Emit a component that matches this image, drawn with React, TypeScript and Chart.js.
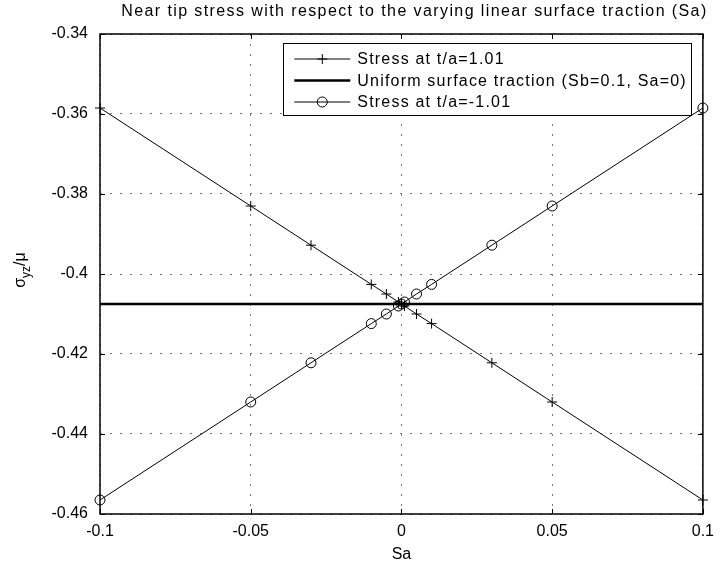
import React, { useEffect, useRef } from "react";
import { Chart, registerables } from "chart.js";

Chart.register(...registerables);

const titleText = "Near tip stress with respect to the varying linear surface traction (Sa)";
const xAxisLabel = "Sa";
const seriesLabels = [
  "Stress at t/a=1.01",
  "Uniform surface traction (Sb=0.1, Sa=0)",
  "Stress at t/a=-1.01",
];
const saValues = [-0.1, -0.05, -0.03, -0.01, -0.005, -0.001, 0, 0.001, 0.005, 0.01, 0.03, 0.05, 0.1];
const stressPos = [-0.3585, -0.383, -0.3928, -0.4026, -0.405, -0.407, -0.4075, -0.408, -0.41, -0.4124, -0.4222, -0.432, -0.4565];
const stressNeg = [-0.4565, -0.432, -0.4222, -0.4124, -0.41, -0.408, -0.4075, -0.407, -0.405, -0.4026, -0.3928, -0.383, -0.3585];
const uniformX = [-0.1, 0.1];
const uniformY = [-0.4075, -0.4075];
const xTicks = [-0.1, -0.05, 0, 0.05, 0.1];
const yTicks = [-0.46, -0.44, -0.42, -0.4, -0.38, -0.36, -0.34];

const FONT = '"Liberation Sans", Arial, Helvetica, sans-serif';

const fmt = (v: number) => String(Number(Number(v).toFixed(3)));

const titlePlugin = {
  id: "spacedTitle",
  afterDraw(chart: any) {
    const { ctx, chartArea } = chart;
    ctx.save();
    ctx.font = `16px ${FONT}`;
    (ctx as any).letterSpacing = "1.4px";
    ctx.fillStyle = "#000";
    ctx.textAlign = "center";
    ctx.textBaseline = "middle";
    ctx.fillText(titleText, (chartArea.left + chartArea.right) / 2 + 13, 12);
    ctx.restore();
  },
};

const framePlugin = {
  id: "frameTicks",
  afterDatasetsDraw(chart: any) {
    const { ctx, chartArea } = chart;
    const { left, right, top, bottom } = chartArea;
    ctx.save();
    ctx.strokeStyle = "#000";
    ctx.lineWidth = 1.5;
    ctx.strokeRect(left, top, right - left, bottom - top);
    ctx.lineWidth = 1;
    const len = 5;
    const xs = chart.scales.x;
    const ys = chart.scales.y;
    ctx.beginPath();
    xTicks.forEach((v) => {
      const px = Math.round(xs.getPixelForValue(v)) + 0.5;
      ctx.moveTo(px, bottom);
      ctx.lineTo(px, bottom - len);
      ctx.moveTo(px, top);
      ctx.lineTo(px, top + len);
    });
    yTicks.forEach((v) => {
      const py = Math.round(ys.getPixelForValue(v)) + 0.5;
      ctx.moveTo(left, py);
      ctx.lineTo(left + len, py);
      ctx.moveTo(right, py);
      ctx.lineTo(right - len, py);
    });
    ctx.stroke();
    ctx.restore();
  },
};

function drawMarker(ctx: CanvasRenderingContext2D, style: string, x: number, y: number, r: number) {
  ctx.beginPath();
  if (style === "cross") {
    ctx.moveTo(x - r, y);
    ctx.lineTo(x + r, y);
    ctx.moveTo(x, y - r);
    ctx.lineTo(x, y + r);
  } else if (style === "circle") {
    ctx.arc(x, y, r, 0, Math.PI * 2);
  }
  ctx.stroke();
}

const legendPlugin = {
  id: "boxLegend",
  afterDatasetsDraw(chart: any) {
    const { ctx, chartArea } = chart;
    ctx.save();
    ctx.font = `16px ${FONT}`;
    (ctx as any).letterSpacing = "1.2px";
    const textW = Math.max(...seriesLabels.map((t) => ctx.measureText(t).width));
    const sampleLeft = 11;
    const sampleLen = 56;
    const textGap = 7;
    const padR = 4;
    const w = sampleLeft + sampleLen + textGap + textW + padR;
    const h = 72;
    const right = chartArea.right - 12;
    const left = right - w;
    const top = chartArea.top + 9;
    ctx.fillStyle = "#fff";
    ctx.fillRect(left, top, w, h);
    ctx.strokeStyle = "#000";
    ctx.lineWidth = 1;
    ctx.strokeRect(Math.round(left) + 0.5, top + 0.5, Math.round(w), h);
    const rowYs = [16, 37.5, 59];
    chart.data.datasets.forEach((ds: any, i: number) => {
      const y = top + rowYs[i];
      ctx.strokeStyle = "#000";
      ctx.lineWidth = ds.borderWidth;
      ctx.beginPath();
      ctx.moveTo(left + sampleLeft, y);
      ctx.lineTo(left + sampleLeft + sampleLen, y);
      ctx.stroke();
      if (ds.pointRadius > 0) {
        ctx.lineWidth = 1;
        drawMarker(ctx, ds.pointStyle, left + sampleLeft + sampleLen / 2, y, ds.pointRadius);
      }
      ctx.fillStyle = "#000";
      ctx.textBaseline = "middle";
      ctx.textAlign = "left";
      ctx.fillText(seriesLabels[i], left + sampleLeft + sampleLen + textGap, y + 1);
    });
    ctx.restore();
  },
};

const yLabelPlugin = {
  id: "yLabel",
  afterDraw(chart: any) {
    const { ctx, chartArea } = chart;
    ctx.save();
    const big = `16px ${FONT}`;
    const small = `12px ${FONT}`;
    ctx.font = big;
    const wSigma = ctx.measureText("\u03c3").width;
    const wTail = ctx.measureText("/\u03bc").width;
    ctx.font = small;
    const wSub = ctx.measureText("yz").width;
    const total = wSigma + wSub + wTail;
    const cy = (chartArea.top + chartArea.bottom) / 2 - 4;
    ctx.translate(25, cy);
    ctx.rotate(-Math.PI / 2);
    ctx.fillStyle = "#000";
    ctx.textBaseline = "alphabetic";
    ctx.textAlign = "left";
    let x = -total / 2;
    ctx.font = big;
    ctx.fillText("\u03c3", x, 0);
    x += wSigma;
    ctx.font = small;
    ctx.fillText("yz", x, 5);
    x += wSub;
    ctx.font = big;
    ctx.fillText("/\u03bc", x, 0);
    ctx.restore();
  },
};

export default function App() {
  const ref = useRef<HTMLCanvasElement | null>(null);
  useEffect(() => {
    document.body.style.margin = "0";
    if (!ref.current) return;
    const toPts = (xs: number[], ys: number[]) => xs.map((x, i) => ({ x, y: ys[i] }));
    const chart = new Chart(ref.current, {
      type: "line",
      data: {
        datasets: [
          {
            label: seriesLabels[0],
            data: toPts(saValues, stressPos),
            borderColor: "#000",
            borderWidth: 1,
            pointStyle: "cross",
            pointRadius: 5,
            pointBorderWidth: 1,
            pointBorderColor: "#000",
            pointBackgroundColor: "rgba(0,0,0,0)",
            tension: 0,
            clip: false,
          } as any,
          {
            label: seriesLabels[1],
            data: toPts(uniformX, uniformY),
            borderColor: "#000",
            borderWidth: 2.5,
            pointRadius: 0,
            tension: 0,
            clip: false,
          } as any,
          {
            label: seriesLabels[2],
            data: toPts(saValues, stressNeg),
            borderColor: "#000",
            borderWidth: 1,
            pointStyle: "circle",
            pointRadius: 5,
            pointBorderWidth: 1,
            pointBorderColor: "#000",
            pointBackgroundColor: "rgba(0,0,0,0)",
            tension: 0,
            clip: false,
          } as any,
        ],
      },
      options: {
        animation: false,
        responsive: false,
        devicePixelRatio: 1,
        layout: { padding: { left: 0, right: 13, top: 34, bottom: 0 } },
        plugins: {
          legend: { display: false },
          tooltip: { enabled: false },
          title: { display: false },
        },
        scales: {
          x: {
            type: "linear",
            min: -0.1,
            max: 0.1,
            afterBuildTicks: (scale: any) => {
              scale.ticks = xTicks.map((v) => ({ value: v }));
            },
            afterFit: (scale: any) => {
              scale.height = 53;
            },
            ticks: {
              autoSkip: false,
              maxRotation: 0,
              color: "#000",
              padding: 8,
              font: { family: FONT, size: 16 },
              callback: (v: any) => fmt(v),
            },
            grid: {
              color: "#777",
              lineWidth: 1,
              drawTicks: false,
            },
            border: { display: false, dash: [2, 8] },
            title: {
              display: true,
              text: xAxisLabel,
              color: "#000",
              font: { family: FONT, size: 16 },
              padding: { top: 0, bottom: 3 },
            },
          },
          y: {
            type: "linear",
            min: -0.46,
            max: -0.34,
            afterBuildTicks: (scale: any) => {
              scale.ticks = yTicks.map((v) => ({ value: v }));
            },
            afterFit: (scale: any) => {
              scale.width = 100;
            },
            ticks: {
              autoSkip: false,
              color: "#000",
              padding: 12,
              font: { family: FONT, size: 16 },
              callback: (v: any) => fmt(v),
            },
            grid: {
              color: "#777",
              lineWidth: 1,
              drawTicks: false,
            },
            border: { display: false, dash: [2, 8] },
          },
        },
      },
      plugins: [framePlugin, legendPlugin, yLabelPlugin, titlePlugin],
    });
    return () => chart.destroy();
  }, []);
  return (
    <div style={{ width: 722, height: 567 }}>
      <canvas ref={ref} width={722} height={567} style={{ display: "block" }} />
    </div>
  );
}
